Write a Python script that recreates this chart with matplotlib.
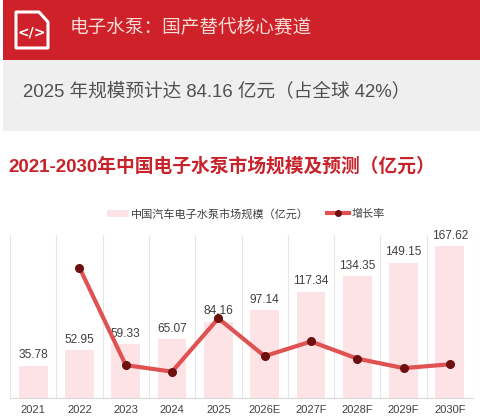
import matplotlib
matplotlib.use("Agg")
import matplotlib.pyplot as plt
from matplotlib.patches import Rectangle, Polygon
from matplotlib.lines import Line2D

plt.rcParams['font.family'] = ['Liberation Sans', 'Noto Sans CJK SC', 'DejaVu Sans']

# ---- data ----
years = ["2021", "2022", "2023", "2024", "2025", "2026E", "2027F", "2028F", "2029F", "2030F"]
market_size = [35.78, 52.95, 59.33, 65.07, 84.16, 97.14, 117.34, 134.35, 149.15, 167.62]
growth_rate = [None, 48.0, 12.1, 9.7, 29.3, 15.4, 20.8, 14.5, 11.0, 12.4]

header_title = "电子水泵：国产替代核心赛道"
sub_title = "2025 年规模预计达 84.16 亿元（占全球 42%）"
chart_title = "2021-2030年中国电子水泵市场规模及预测（亿元）"
legend_bar = "中国汽车电子水泵市场规模（亿元）"
legend_line = "增长率"

W, H = 480, 420
fig = plt.figure(figsize=(W / 100, H / 100), dpi=100)
fig.patch.set_facecolor("white")

def fx(x):
    return x / W

def fy(y):
    return 1 - y / H

# header band
fig.patches.append(Rectangle((fx(3), fy(60)), fx(477), 60 / H, transform=fig.transFigure,
                             facecolor="#cf2129", edgecolor="none", zorder=0))
# gray band
fig.patches.append(Rectangle((fx(3), fy(131)), fx(477), 71 / H, transform=fig.transFigure,
                             facecolor="#efefef", edgecolor="none", zorder=0))

# icon: document with folded corner
doc = [(16, 12), (39, 12), (48, 22), (48, 48), (16, 48)]
fig.patches.append(Polygon([(fx(a), fy(b)) for a, b in doc], closed=True, transform=fig.transFigure,
                           facecolor="none", edgecolor="white", linewidth=2.2, joinstyle="round", zorder=2))
fig.text(fx(32), fy(32), "</>", color="white", fontsize=10, fontweight="bold",
         ha="center", va="center", family=["DejaVu Sans"])

fig.text(fx(70), fy(28), header_title, color="#fadcd6", fontsize=13.4, ha="left", va="center")
fig.text(fx(23), fy(91), sub_title, color="#505050", fontsize=13.4, ha="left", va="center")
fig.text(fx(8), fy(166), chart_title, color="#c8222a", fontsize=13.5, fontweight="bold",
         ha="left", va="center")

# main axes
left, right, top, bottom = 10, 473, 235, 398
ax = fig.add_axes([fx(left), fy(bottom), (right - left) / W, (bottom - top) / H])
ax.set_facecolor("none")
x = list(range(len(years)))
ax.bar(x, market_size, width=0.62, color="#fde3e6", edgecolor="none", zorder=2)
ax.set_ylim(0, 180)
ax.set_xlim(-0.5, len(years) - 0.5)
for xi, v in zip(x, market_size):
    ax.text(xi, v + 5, f"{v:.2f}", ha="center", va="bottom", fontsize=8.6, color="#404040", zorder=5)
for b in [i - 0.5 for i in range(len(years) + 1)]:
    ax.axvline(b, color="#e6e6e6", linewidth=0.8, zorder=1)
ax.set_xticks(x)
ax.set_xticklabels(years, fontsize=8, color="#404040")
ax.tick_params(axis="x", length=0, pad=5)
ax.set_yticks([])
for s in ["top", "left", "right"]:
    ax.spines[s].set_visible(False)
ax.spines["bottom"].set_color("#d9d9d9")

ax2 = ax.twinx()
gx = [xi for xi, g in zip(x, growth_rate) if g is not None]
gy = [g for g in growth_rate if g is not None]
ax2.plot(gx, gy, color="#e05252", linewidth=3, marker="o", markersize=5.5,
         markerfacecolor="#6e1010", markeredgecolor="#6e1010", zorder=4)
ax2.set_ylim(0, 60)
ax2.set_yticks([])
for s in ["top", "left", "right", "bottom"]:
    ax2.spines[s].set_visible(False)

# legend
handles = [Rectangle((0, 0), 1, 1, facecolor="#fde3e6", edgecolor="none"),
           Line2D([0], [0], color="#e05252", linewidth=3, marker="o", markersize=4,
                  markerfacecolor="#6e1010", markeredgecolor="#6e1010")]
fig.legend(handles, [legend_bar, legend_line], loc="center", bbox_to_anchor=(fx(246), fy(214)),
           ncol=2, frameon=False, fontsize=8, handlelength=2.0, handletextpad=0.2,
           columnspacing=1.6, labelcolor="#404040")

fig.savefig("out.png", dpi=100)
